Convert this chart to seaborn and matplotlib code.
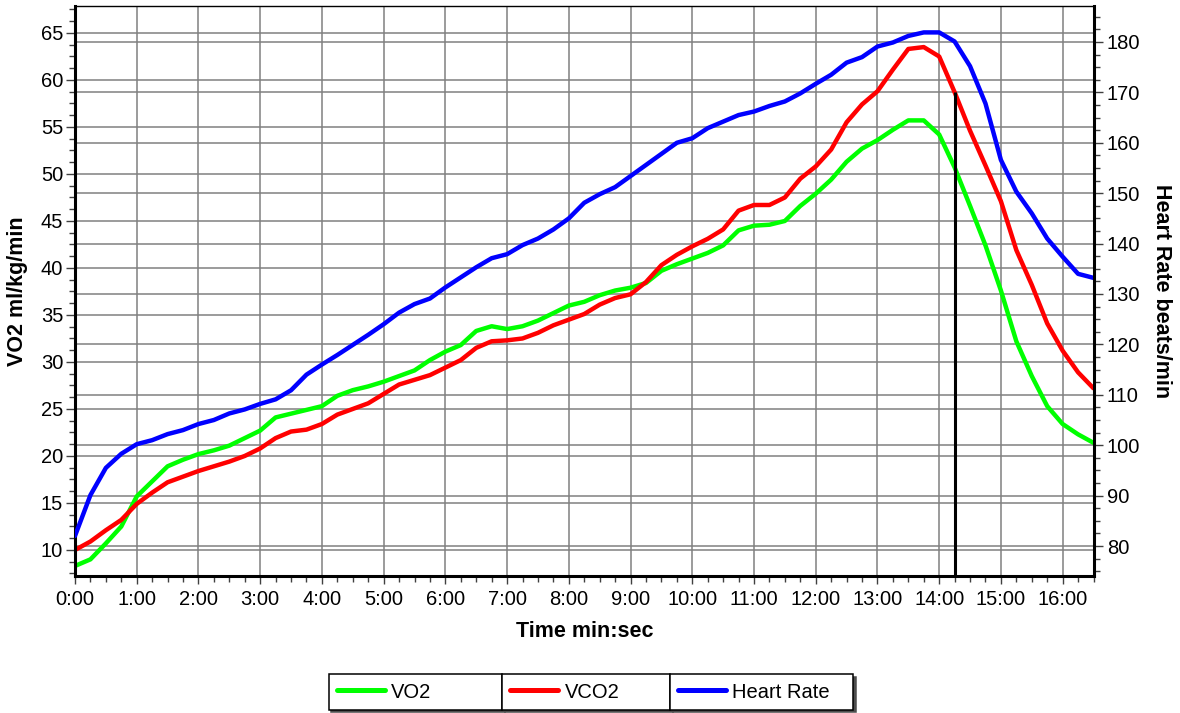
import numpy as np
import pandas as pd
import matplotlib
matplotlib.use("Agg")
import matplotlib.pyplot as plt
import matplotlib.transforms as mtransforms
from matplotlib.lines import Line2D
from matplotlib.ticker import MultipleLocator, FuncFormatter
import seaborn as sns

# ---- data: one sample every 15 s ----
TIME_SEC = [
    0, 15, 30, 45, 60, 75, 90, 105, 120, 135,
    150, 165, 180, 195, 210, 225, 240, 255, 270, 285,
    300, 315, 330, 345, 360, 375, 390, 405, 420, 435,
    450, 465, 480, 495, 510, 525, 540, 555, 570, 585,
    600, 615, 630, 645, 660, 675, 690, 705, 720, 735,
    750, 765, 780, 795, 810, 825, 840, 855, 870, 885,
    900, 915, 930, 945, 960, 975, 990,
]
VO2 = [
    8.3, 9.0, 10.7, 12.5, 15.7, 17.3, 18.9, 19.6, 20.2, 20.6,
    21.1, 21.9, 22.7, 24.1, 24.5, 24.9, 25.3, 26.4, 27.0, 27.4,
    27.9, 28.5, 29.1, 30.2, 31.1, 31.8, 33.3, 33.8, 33.5, 33.8,
    34.4, 35.2, 36.0, 36.4, 37.1, 37.6, 37.9, 38.4, 39.7, 40.4,
    41.0, 41.6, 42.4, 44.0, 44.5, 44.6, 45.0, 46.6, 47.9, 49.4,
    51.3, 52.7, 53.6, 54.7, 55.7, 55.7, 54.2, 50.7, 46.6, 42.4,
    37.6, 32.2, 28.5, 25.3, 23.4, 22.3, 21.4,
]
VCO2 = [
    10.0, 10.9, 12.1, 13.2, 14.9, 16.1, 17.2, 17.8, 18.4, 18.9,
    19.4, 20.0, 20.8, 21.9, 22.6, 22.8, 23.4, 24.4, 25.0, 25.6,
    26.6, 27.6, 28.1, 28.6, 29.4, 30.2, 31.5, 32.2, 32.3, 32.5,
    33.1, 33.9, 34.5, 35.1, 36.1, 36.8, 37.2, 38.5, 40.3, 41.4,
    42.3, 43.1, 44.1, 46.1, 46.7, 46.7, 47.5, 49.5, 50.8, 52.6,
    55.5, 57.4, 58.8, 61.1, 63.3, 63.5, 62.5, 58.7, 54.6, 50.9,
    47.1, 41.9, 38.2, 34.1, 31.2, 28.9, 27.2,
]
HEART_RATE = [
    82.0, 90.1, 95.5, 98.3, 100.2, 101.0, 102.2, 103.0, 104.2, 105.0,
    106.3, 107.1, 108.2, 109.1, 110.9, 114.0, 116.0, 117.9, 119.9, 121.9,
    124.0, 126.3, 128.0, 129.1, 131.3, 133.3, 135.3, 137.1, 137.9, 139.7,
    141.0, 142.8, 145.0, 148.1, 149.8, 151.2, 153.4, 155.6, 157.8, 160.0,
    160.9, 162.9, 164.2, 165.5, 166.2, 167.3, 168.2, 169.8, 171.7, 173.5,
    175.9, 177.0, 179.1, 179.9, 181.2, 181.9, 181.9, 180.1, 175.2, 167.8,
    156.6, 150.3, 146.0, 141.0, 137.4, 134.0, 133.2,
]
SERIES = ["VO2", "VCO2", "Heart Rate"]
COLORS = {"VO2": "#00ff00", "VCO2": "#ff0000", "Heart Rate": "#0000ff"}
MARKER_TIME_SEC = 855  # vertical marker, drawn up to the VCO2 curve

# ---- style ----
sns.set_style("white")
plt.rcParams["font.family"] = ["Liberation Sans", "DejaVu Sans"]
plt.rcParams["text.color"] = "black"
plt.rcParams["axes.labelcolor"] = "black"
plt.rcParams["xtick.color"] = "black"
plt.rcParams["ytick.color"] = "black"

df = pd.DataFrame({
    "minutes": np.array(TIME_SEC) / 60.0,
    "VO2": VO2,
    "VCO2": VCO2,
    "Heart Rate": HEART_RATE,
})

W, H = 1180, 713
fig = plt.figure(figsize=(W / 100, H / 100), dpi=100)
ax = fig.add_axes([75 / W, 1 - 576 / H, (1093.5 - 75) / W, (576 - 6) / H])
ax2 = ax.twinx()

X_LIM = (0, 16.5)
LEFT_LIM = (7.23, 67.87)
RIGHT_LIM = (74.05, 187.14)
ax.set_xlim(*X_LIM)
ax.set_ylim(*LEFT_LIM)
ax2.set_ylim(*RIGHT_LIM)

ax.xaxis.set_major_locator(MultipleLocator(1))
ax.xaxis.set_minor_locator(MultipleLocator(0.25))
ax.yaxis.set_major_locator(MultipleLocator(5))
ax.yaxis.set_minor_locator(MultipleLocator(1.25))
ax2.yaxis.set_major_locator(MultipleLocator(10))
ax2.yaxis.set_minor_locator(MultipleLocator(2.5))


def mmss(v, _pos):
    s = int(round(v * 60))
    return f"{s // 60}:{s % 60:02d}"


ax.xaxis.set_major_formatter(FuncFormatter(mmss))

# ---- grid (both left and right major ticks), under the curves ----
GRID_COLOR = "#808080"
GRID_LW = 1.1
ax.set_axisbelow(True)
ax.grid(True, which="major", axis="both", color=GRID_COLOR, lw=GRID_LW)
ax2.grid(False)
hr_grid = [t for t in ax2.yaxis.get_majorticklocs() if RIGHT_LIM[0] <= t <= RIGHT_LIM[1]]
ax.hlines(hr_grid, 0, 1,
          transform=mtransforms.blended_transform_factory(ax.transAxes, ax2.transData),
          colors=GRID_COLOR, linewidths=GRID_LW, zorder=0.6)

# ---- curves ----
LW = 3.2
sns.lineplot(data=df, x="minutes", y="VO2", ax=ax, color=COLORS["VO2"], lw=LW, legend=False)
sns.lineplot(data=df, x="minutes", y="VCO2", ax=ax, color=COLORS["VCO2"], lw=LW, legend=False)
sns.lineplot(data=df, x="minutes", y="Heart Rate", ax=ax2, color=COLORS["Heart Rate"], lw=LW, legend=False)

marker_idx = TIME_SEC.index(MARKER_TIME_SEC)
ax.vlines(MARKER_TIME_SEC / 60.0, LEFT_LIM[0], VCO2[marker_idx], colors="black", linewidths=2.2, zorder=2.5)

ax.set_xlim(*X_LIM)
ax.set_ylim(*LEFT_LIM)
ax2.set_ylim(*RIGHT_LIM)

# ---- spines & ticks ----
for name, sp in ax.spines.items():
    sp.set_color("black")
ax.spines["left"].set_linewidth(2.2)
ax.spines["bottom"].set_linewidth(2.2)
ax.spines["top"].set_linewidth(1.0)
ax.spines["right"].set_visible(False)
for name in ["left", "top", "bottom"]:
    ax2.spines[name].set_visible(False)
ax2.spines["right"].set_color("black")
ax2.spines["right"].set_linewidth(2.2)

TICK_FS = 14.5
TICK_COLOR = "#404040"
ax.tick_params(axis="x", which="major", bottom=True, direction="out", length=6, width=1,
               color=TICK_COLOR, labelcolor="black", labelsize=TICK_FS, pad=4)
ax.tick_params(axis="x", which="minor", bottom=True, direction="out", length=4.5, width=1,
               color=TICK_COLOR)
ax.tick_params(axis="y", which="major", left=True, direction="out", length=6.5, width=1,
               color=TICK_COLOR, labelcolor="black", labelsize=TICK_FS, pad=2)
ax.tick_params(axis="y", which="minor", left=True, direction="out", length=4.5, width=1,
               color=TICK_COLOR)
ax2.tick_params(axis="y", which="major", right=True, labelright=True, direction="out",
                length=6.5, width=1, color=TICK_COLOR, labelcolor="black",
                labelsize=TICK_FS, pad=3)
ax2.tick_params(axis="y", which="minor", right=True, direction="out", length=4.5, width=1,
                color=TICK_COLOR)

LABEL_FS = 15.5
ax.set_xlabel("Time min:sec", fontsize=LABEL_FS, fontweight="bold", va="center", color="black")
ax.xaxis.set_label_coords(0.5, -0.0965)
ax.set_ylabel("VO2 ml/kg/min", fontsize=LABEL_FS, fontweight="bold", va="center", color="black")
ax.yaxis.set_label_coords(-0.056, 0.5)
ax2.set_ylabel("Heart Rate beats/min", fontsize=LABEL_FS, fontweight="bold",
               rotation=270, va="center", color="black")
ax2.yaxis.set_label_coords(1.067, 0.5)

# ---- legend: three boxed cells in a row under the chart ----
cells = [(328.7, 502.0), (502.0, 670.0), (670.0, 853.0)]
for name, (x0, x1) in zip(SERIES, cells):
    handle = Line2D([], [], color=COLORS[name], lw=3.6, solid_capstyle="round")
    leg = fig.legend([handle], [name], loc="center",
                     bbox_to_anchor=(x0 / W, (H - 709) / H, (x1 - x0) / W, 34 / H),
                     mode="expand", borderaxespad=0, frameon=True, fancybox=False,
                     framealpha=1, edgecolor="black",
                     shadow={"facecolor": "0.3", "edgecolor": "0.3", "alpha": 1},
                     fontsize=14.5, handlelength=2.4, handletextpad=0.3, borderpad=0.4,
                     labelcolor="black")
    leg.get_frame().set_linewidth(1.1)

fig.savefig("out.png", dpi=100)
